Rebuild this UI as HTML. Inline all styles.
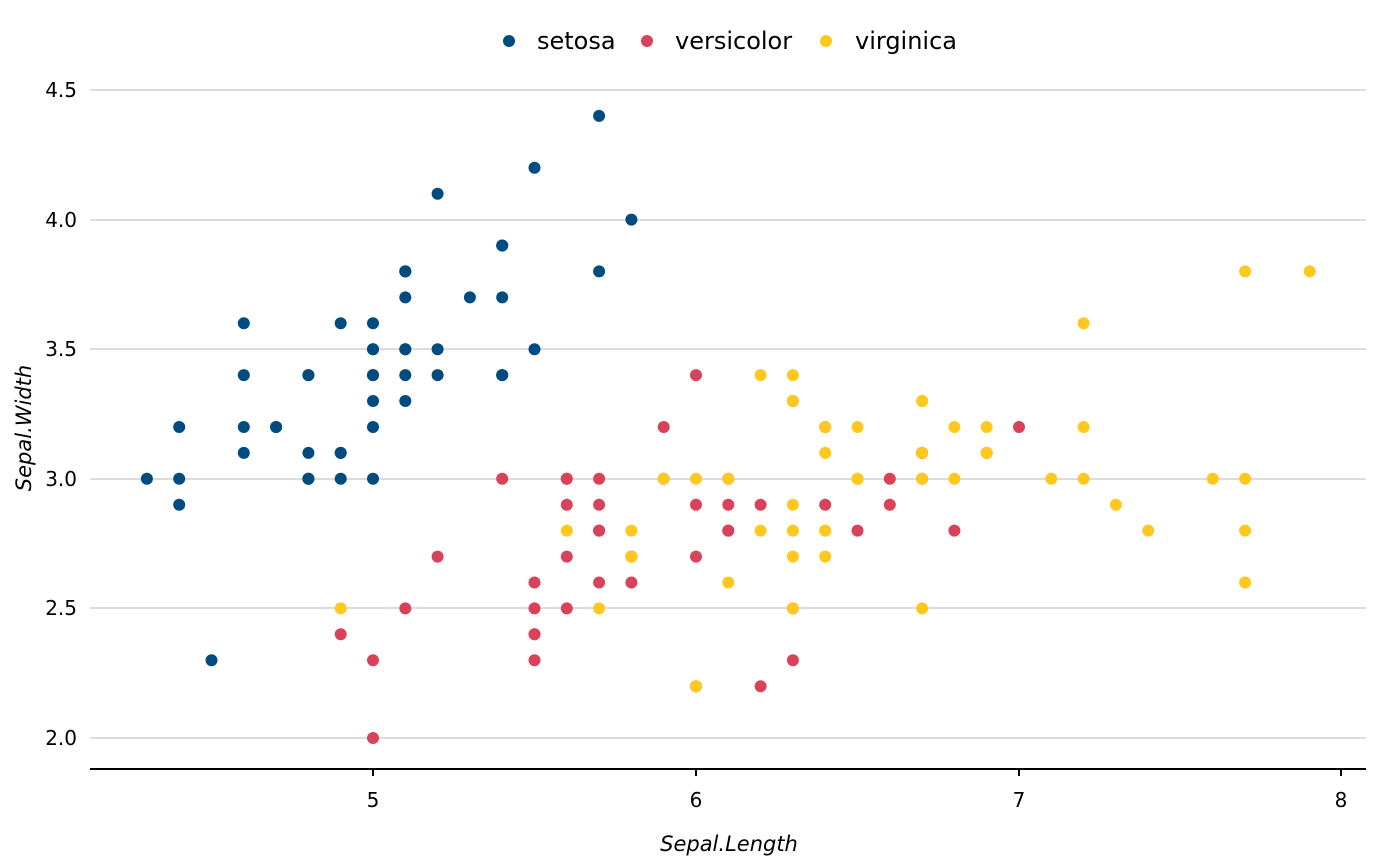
<!DOCTYPE html>
<html><head><meta charset="utf-8"><style>
html,body{margin:0;padding:0;background:#fff;}
svg{display:block;font-family:"DejaVu Sans","Liberation Sans",sans-serif;}
</style></head><body>
<svg id="s" width="1400" height="865" xmlns="http://www.w3.org/2000/svg">
<g stroke="#dcdcdc" stroke-width="2">
<line x1="90" x2="1366" y1="90" y2="90"/><line x1="90" x2="1366" y1="220" y2="220"/>
<line x1="90" x2="1366" y1="349" y2="349"/><line x1="90" x2="1366" y1="479" y2="479"/>
<line x1="90" x2="1366" y1="608" y2="608"/><line x1="90" x2="1366" y1="738" y2="738"/>
</g>
<line x1="90" x2="1366" y1="769" y2="769" stroke="#000" stroke-width="2"/>
<g stroke="#000" stroke-width="2">
<line x1="373" x2="373" y1="769" y2="776"/><line x1="696" x2="696" y1="769" y2="776"/>
<line x1="1019" x2="1019" y1="769" y2="776"/><line x1="1341" x2="1341" y1="769" y2="776"/>
</g>
<g font-size="20" text-anchor="end" fill="#000">
<text x="77" y="97">4.5</text><text x="77" y="227">4.0</text><text x="77" y="356">3.5</text>
<text x="77" y="486">3.0</text><text x="77" y="615">2.5</text><text x="77" y="745">2.0</text>
</g>
<g font-size="20" text-anchor="middle" fill="#000">
<text x="373" y="807">5</text><text x="696" y="807">6</text><text x="1019" y="807">7</text><text x="1341" y="807">8</text>
</g>
<text x="729" y="851" font-size="21" font-style="italic" text-anchor="middle" fill="#000">Sepal.Length</text>
<text transform="translate(31,428) rotate(-90)" font-size="21" font-style="italic" text-anchor="middle" fill="#000">Sepal.Width</text>
<circle cx="509" cy="41" r="6" fill="#004B7F"/><text x="537" y="49" font-size="24" fill="#000">setosa</text>
<circle cx="647" cy="41" r="6" fill="#D9435A"/><text x="675" y="49" font-size="24" fill="#000">versicolor</text>
<circle cx="826" cy="41" r="6" fill="#FFC81E"/><text x="855" y="49" font-size="24" fill="#000">virginica</text>
<g id="pts"></g>
</svg>
<script>
var d={
"#004B7F":[5.1,3.5,4.9,3.0,4.7,3.2,4.6,3.1,5.0,3.6,5.4,3.9,4.6,3.4,5.0,3.4,4.4,2.9,4.9,3.1,5.4,3.7,4.8,3.4,4.8,3.0,4.3,3.0,5.8,4.0,5.7,4.4,5.4,3.9,5.1,3.5,5.7,3.8,5.1,3.8,5.4,3.4,5.1,3.7,4.6,3.6,5.1,3.3,4.8,3.4,5.0,3.0,5.0,3.4,5.2,3.5,5.2,3.4,4.7,3.2,4.8,3.1,5.4,3.4,5.2,4.1,5.5,4.2,4.9,3.1,5.0,3.2,5.5,3.5,4.9,3.6,4.4,3.0,5.1,3.4,5.0,3.5,4.5,2.3,4.4,3.2,5.0,3.5,5.1,3.8,4.8,3.0,5.1,3.8,4.6,3.2,5.3,3.7,5.0,3.3],
"#D9435A":[7.0,3.2,6.4,3.2,6.9,3.1,5.5,2.3,6.5,2.8,5.7,2.8,6.3,3.3,4.9,2.4,6.6,2.9,5.2,2.7,5.0,2.0,5.9,3.0,6.0,2.2,6.1,2.9,5.6,2.9,6.7,3.1,5.6,3.0,5.8,2.7,6.2,2.2,5.6,2.5,5.9,3.2,6.1,2.8,6.3,2.5,6.1,2.8,6.4,2.9,6.6,3.0,6.8,2.8,6.7,3.0,6.0,2.9,5.7,2.6,5.5,2.4,5.5,2.4,5.8,2.7,6.0,2.7,5.4,3.0,6.0,3.4,6.7,3.1,6.3,2.3,5.6,3.0,5.5,2.5,5.5,2.6,6.1,3.0,5.8,2.6,5.0,2.3,5.6,2.7,5.7,3.0,5.7,2.9,6.2,2.9,5.1,2.5,5.7,2.8],
"#FFC81E":[6.3,3.3,5.8,2.7,7.1,3.0,6.3,2.9,6.5,3.0,7.6,3.0,4.9,2.5,7.3,2.9,6.7,2.5,7.2,3.6,6.5,3.2,6.4,2.7,6.8,3.0,5.7,2.5,5.8,2.8,6.4,3.2,6.5,3.0,7.7,3.8,7.7,2.6,6.0,2.2,6.9,3.2,5.6,2.8,7.7,2.8,6.3,2.7,6.7,3.3,7.2,3.2,6.2,2.8,6.1,3.0,6.4,2.8,7.2,3.0,7.4,2.8,7.9,3.8,6.4,2.8,6.3,2.8,6.1,2.6,7.7,3.0,6.3,3.4,6.4,3.1,6.0,3.0,6.9,3.1,6.7,3.1,6.9,3.1,5.8,2.7,6.8,3.2,6.7,3.3,6.7,3.0,6.3,2.5,6.5,3.0,6.2,3.4,5.9,3.0]};
var g=document.getElementById('pts'),h='';
for(var c in d){var a=d[c];for(var i=0;i<a.length;i+=2){
h+='<circle cx="'+(373+(a[i]-5)*323).toFixed(1)+'" cy="'+(738-(a[i+1]-2)*259.2).toFixed(1)+'" r="6" fill="'+c+'"/>';}}
g.innerHTML=h;
</script>
</body></html>
